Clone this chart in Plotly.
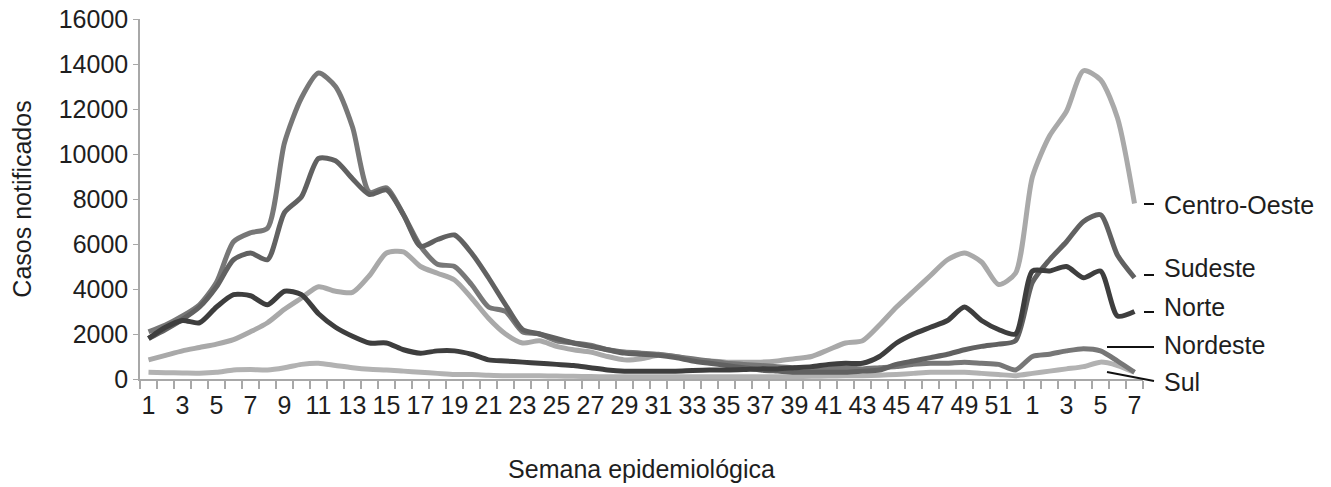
import plotly.graph_objects as go

weeks = list(range(1, 53)) + list(range(1, 8))

centro_oeste = [850, 1050, 1250, 1400, 1550, 1750, 2100, 2500, 3100, 3600,
                4100, 3900, 3850, 4600, 5600, 5650, 5000, 4700, 4400, 3600,
                2700, 2000, 1600, 1700, 1450, 1300, 1200, 1000, 850, 900,
                1050, 1000, 850, 800, 750, 750, 750, 800, 900, 1000,
                1300, 1600, 1700, 2400, 3200, 3900, 4600, 5300, 5600, 5200,
                4200, 4700, 9000, 10800, 11900, 13700, 13300, 11600, 7800]

nordeste = [2100, 2400, 2800, 3300, 4300, 6100, 6500, 6700, 10500, 12500,
            13600, 13000, 11200, 8300, 8500, 7300, 5900, 5100, 5000, 4200,
            3200, 3000, 2100, 2000, 1700, 1600, 1500, 1300, 1200, 1150,
            1100, 1000, 900, 800, 700, 650, 600, 550, 500, 500,
            500, 500, 450, 500, 550, 650, 700, 700, 750, 700,
            650, 400, 1000, 1100, 1250, 1350, 1250, 800, 300]

sudeste = [1800, 2200, 2650, 3200, 4100, 5300, 5600, 5300, 7400, 8100,
           9800, 9700, 8900, 8200, 8400, 7300, 5900, 6200, 6400, 5600,
           4500, 3300, 2200, 2000, 1800, 1600, 1450, 1300, 1150, 1100,
           1050, 950, 800, 700, 600, 500, 400, 350, 300, 300,
           300, 300, 350, 400, 650, 800, 950, 1100, 1300, 1450,
           1550, 1700, 4300, 5300, 6100, 7000, 7300, 5500, 4500]

norte = [1800, 2300, 2600, 2500, 3200, 3750, 3700, 3300, 3900, 3750,
         2900, 2300, 1900, 1600, 1600, 1300, 1150, 1250, 1250, 1100,
         850, 800, 750, 700, 650, 600, 500, 400, 350, 350,
         350, 350, 380, 400, 400, 420, 450, 450, 500, 550,
         650, 700, 700, 1000, 1600, 2000, 2300, 2600, 3200, 2600,
         2200, 2000, 4800, 4800, 5000, 4500, 4800, 2800, 3000]

sul = [300, 280, 270, 260, 300, 400, 420, 400, 500, 650,
       700, 600, 500, 430, 400, 350, 300, 250, 200, 200,
       170, 150, 150, 140, 130, 120, 110, 100, 100, 100,
       100, 100, 100, 100, 100, 100, 100, 100, 110, 120,
       130, 140, 150, 170, 200, 250, 300, 300, 300, 250,
       200, 150, 250, 350, 450, 550, 750, 600, 300]

series = [
    ("Sul", sul, "#b2b2b2"),
    ("Centro-Oeste", centro_oeste, "#a9a9a9"),
    ("Nordeste", nordeste, "#777777"),
    ("Sudeste", sudeste, "#616161"),
    ("Norte", norte, "#3e3e3e"),
]

idx = list(range(len(weeks)))
tickvals = idx[::2]
ticktext = [str(weeks[i]) for i in tickvals]

FONT = "Liberation Sans, Arial, sans-serif"
FS = 25
AX = "#a8a8a8"

fig = go.Figure()
for name, vals, col in series:
    fig.add_trace(go.Scatter(x=idx, y=vals, mode="lines", name=name,
                             line=dict(color=col, width=5, shape="spline", smoothing=0.7),
                             showlegend=False, hoverinfo="skip"))

L, R, T, B = 140, 188, 19, 108
W, H = 1331, 487
pw, ph = W - L - R, H - T - B

def px(x):
    return (x - L) / pw

def py(y):
    return (H - B - y) / ph

labels = [
    ("Centro-Oeste", 205, [(1144, 204, 1154, 204)]),
    ("Sudeste", 268, [(1144, 275, 1154, 275)]),
    ("Norte", 307, [(1144, 312, 1154, 312)]),
    ("Nordeste", 345, [(1107, 347, 1154, 347)]),
    ("Sul", 382, [(1107, 372, 1154, 381)]),
]
for text, yc, segs in labels:
    fig.add_annotation(x=px(1162), y=py(yc), xref="paper", yref="paper", text=text,
                       showarrow=False, xanchor="left", yanchor="middle",
                       font=dict(family=FONT, size=FS, color="#1e1e1e"))
    for x0, y0, x1, y1 in segs:
        fig.add_shape(type="line", xref="paper", yref="paper",
                      x0=px(x0), y0=py(y0), x1=px(x1), y1=py(y1),
                      line=dict(color="#111111", width=2))

fig.update_layout(
    width=W, height=H, autosize=False,
    margin=dict(l=L, r=R, t=T, b=B, autoexpand=False),
    paper_bgcolor="white", plot_bgcolor="white",
    font=dict(family=FONT, size=FS, color="#1e1e1e"),
    xaxis=dict(range=[-0.5, 58.5], tickmode="array", tickvals=tickvals, ticktext=ticktext,
               ticks="outside", ticklen=3, tickcolor="rgba(0,0,0,0)",
               minor=dict(tickmode="linear", tick0=-0.5, dtick=1, ticks="outside",
                          ticklen=8, tickcolor=AX, tickwidth=1.5, showgrid=False),
               showline=True, linecolor=AX, linewidth=1.5, showgrid=False, zeroline=False,
               tickfont=dict(size=FS), fixedrange=True, automargin=False,
               title=dict(text="Semana epidemiológica", font=dict(size=FS), standoff=43)),
    yaxis=dict(range=[0, 16000], dtick=2000, tickformat="d", ticks="outside", ticklen=5,
               tickcolor=AX, showline=True, linecolor=AX, linewidth=1.5, showgrid=False,
               zeroline=False, tickfont=dict(size=FS), fixedrange=True, automargin=False,
               title=dict(text="Casos notificados", font=dict(size=FS), standoff=20)),
)

fig.write_html("out.html", config={"displayModeBar": False},
               post_script="document.body.style.margin='0';document.body.style.overflow='hidden';")
